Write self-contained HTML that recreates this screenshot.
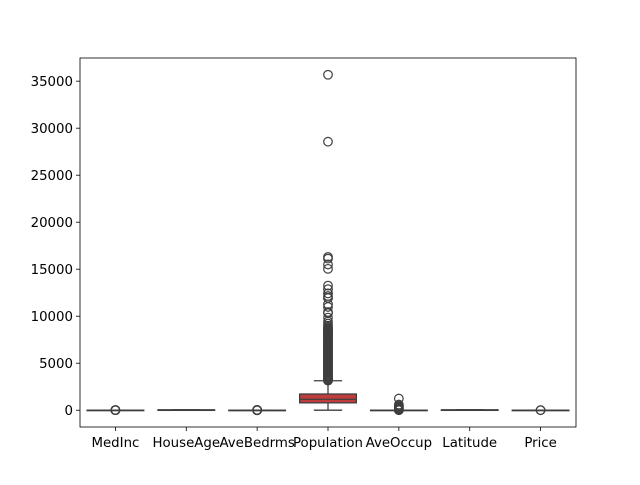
<!DOCTYPE html>
<html><head><meta charset="utf-8"><style>
body{margin:0;background:#fff}
svg text{font-family:"DejaVu Sans","Liberation Sans",sans-serif;font-size:13.33px;fill:#000}
</style></head><body>
<svg id="chart" width="640" height="480" xmlns="http://www.w3.org/2000/svg"></svg>
<script>
const categories=["MedInc","HouseAge","AveBedrms","Population","AveOccup","Latitude","Price"];
const q1=[2.56,18,1.01,787,2.43,33.93,1.2];
const medians=[3.53,29,1.05,1166,2.82,34.26,1.8];
const q3=[4.74,37,1.1,1725,3.28,37.71,2.65];
const whiskLo=[0.5,1,0.87,3,1.16,32.54,0.15];
const whiskHi=[8.01,52,1.24,3132,4.56,41.95,5.0];
const colors=["#3274a1","#e1812c","#3a923a","#c03d3e","#9372b2","#845b53","#d684bd"];
const outMedInc=[8.1,9,10,11,12,13,15];
const outAveBedrms=[0.3,2,5,10,15,25,34];
const outPopulation=[35682,28566,16305,16122,15507,15037,13251,12873,12427,12153,11956,11935,11272,10988,10450,10323,9851,9427,9217,9000,8850,8733,8650,8552,8470,8400,8300,8200,8100,8000,7900,7800,7700,7600,7500,7400,7300,7200,7100,7000,6900,6800,6700,6600,6500,6400,6300,6200,6100,6000,5900,5800,5700,5600,5500,5400,5300,5200,5100,5000,4900,4800,4700,4600,4500,4400,4300,4200,4100,4000,3900,3800,3700,3600,3500,3400,3300,3250,3200,3140];
const outAveOccup=[1243,600,502,400,300,230,150,100,60,30,10,0.7];
const outPrice=[5.0,5.0];
const outliers=[outMedInc,[],outAveBedrms,outPopulation,outAveOccup,[],outPrice];
const yTicks=[0,5000,10000,15000,20000,25000,30000,35000];

const svg=document.getElementById('chart');
const NS='http://www.w3.org/2000/svg';
const L=80,R=576,T=58,B=427;
const yMin=-1784,yMax=37466;
const y=v=>B-(v-yMin)/(yMax-yMin)*(B-T);
const band=(R-L)/categories.length;
const x=i=>L+band*(i+0.5);
function mk(tag,attrs,parent){const e=document.createElementNS(NS,tag);for(const k in attrs)e.setAttribute(k,attrs[k]);(parent||svg).appendChild(e);return e;}
const lc="#3f3f3f";
categories.forEach((c,i)=>{
  const g=mk('g',{});
  
  
  const cx=x(i),w=band*0.8;
  mk('line',{x1:cx,x2:cx,y1:y(whiskLo[i]),y2:y(q1[i]),stroke:lc,'stroke-width':1.3},g);
  mk('line',{x1:cx,x2:cx,y1:y(whiskHi[i]),y2:y(q3[i]),stroke:lc,'stroke-width':1.3},g);
  mk('line',{x1:cx-w/4,x2:cx+w/4,y1:y(whiskLo[i]),y2:y(whiskLo[i]),stroke:lc,'stroke-width':1.3},g);
  mk('line',{x1:cx-w/4,x2:cx+w/4,y1:y(whiskHi[i]),y2:y(whiskHi[i]),stroke:lc,'stroke-width':1.3},g);
  const top=y(q3[i]),bot=y(q1[i]);
  mk('rect',{x:cx-w/2,y:top,width:w,height:Math.max(bot-top,0.5),fill:colors[i],stroke:lc,'stroke-width':1.3},g);
  mk('line',{x1:cx-w/2,x2:cx+w/2,y1:y(medians[i]),y2:y(medians[i]),stroke:lc,'stroke-width':1.3},g);
  outliers[i].forEach(v=>{
    const c2=mk('circle',{cx:cx,cy:y(v),r:4.3,fill:'none',stroke:lc,'stroke-width':1.2},g);
    
    
  });
  const t=mk('text',{x:cx,y:B+20,'text-anchor':'middle'});
  t.textContent=c;
  
  
  mk('line',{x1:cx,x2:cx,y1:B,y2:B+4,stroke:'#000','stroke-width':0.8});
});
yTicks.forEach(v=>{
  const yy=y(v);
  mk('line',{x1:L-4,x2:L,y1:yy,y2:yy,stroke:'#000','stroke-width':0.8});
  const t=mk('text',{x:L-7,y:yy+5,'text-anchor':'end'});
  t.textContent=v;
  
  
});
const fr=mk('rect',{x:L,y:T,width:R-L,height:B-T,fill:'none',stroke:'#000','stroke-width':0.8});


</script>
</body></html>
